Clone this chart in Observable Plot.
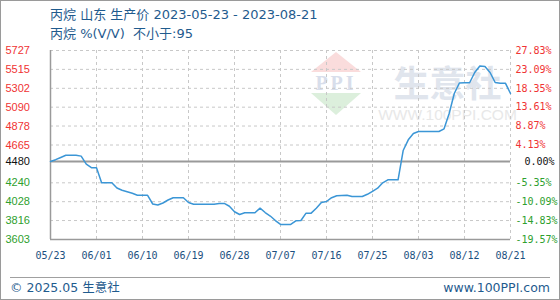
<!DOCTYPE html>
<html><head><meta charset="utf-8">
<script src="https://cdn.jsdelivr.net/npm/d3@7"></script>
<script src="https://cdn.jsdelivr.net/npm/@observablehq/plot@0.6"></script>
<style>
body{margin:0;background:#fff;}
#wrap{position:relative;width:560px;height:300px;overflow:hidden;background:#fff;font-family:"DejaVu Sans","Noto Sans CJK SC",sans-serif;}
#border{position:absolute;left:0;top:0;width:560px;height:300px;box-sizing:border-box;border:1px solid #9a9a9a;pointer-events:none;}
.t{position:absolute;left:50px;font-size:13px;color:#1f5b8e;line-height:20px;white-space:pre;}
#chart{position:absolute;left:0;top:0;}
#sep{position:absolute;left:10px;top:277px;width:540px;height:0;border-top:1px solid #a0a0a0;}
.f{position:absolute;top:279px;font-size:12.5px;line-height:18px;color:#1f5b8e;white-space:pre;}
</style></head>
<body>
<div id="wrap">
  <div class="t" id="title" style="top:5px"></div>
  <div class="t" id="subtitle" style="top:24px"></div>
  <div id="chart"></div>
  <div id="sep"></div>
  <div class="f" id="footL" style="left:10px"></div>
  <div class="f" id="footR" style="right:10px"></div>
  <div id="border"></div>
</div>
<script>
const titleText = "丙烷 山东 生产价 2023-05-23 - 2023-08-21";
const subtitleText = "丙烷 %(V/V)  不小于:95";
const footerLeft = "© 2025.05 生意社";
const footerRight = "www.100PPI.com";

const startDate = "2023-05-23";
const endDate = "2023-08-21";
const basePrice = 4480;
const prices = [
  4480,4500,4525,4550,4550,4550,4540,4450,4410,4410,
  4240,4240,4240,4182,4157,4140,4122,4100,4100,4100,
  4002,3991,4013,4047,4072,4072,4072,4019,4000,4000,
  4000,4000,4000,4008,4008,3977,3915,3884,3903,3903,
  3903,3955,3906,3867,3816,3772,3772,3772,3813,3816,
  3899,3899,3954,4019,4030,4073,4094,4097,4101,4086,
  4086,4086,4111,4145,4180,4240,4274,4274,4274,4603,
  4723,4794,4817,4817,4817,4817,4817,4847,5019,5244,
  5362,5365,5365,5480,5553,5547,5480,5367,5360,5360,
  5244
];
const yTicks = [5727,5515,5302,5090,4878,4665,4480,4240,4028,3816,3603];
const pctLabels = ["27.83%","23.09%","18.35%","13.61%","8.87%","4.13%","0.00%","-5.35%","-10.09%","-14.83%","-19.57%"];
const xTickLabels = ["05/23","06/01","06/10","06/19","06/28","07/07","07/16","07/25","08/03","08/12","08/21"];
const tickYear = 2023;

const upColor = "#f03333", downColor = "#2ea02e", baseColor = "#111";
const lineColor = "#3b96d6";
const gridColor = "#c8c8c8";
const axisColor = "#9a9a9a";

document.getElementById("title").textContent = titleText;
document.getElementById("subtitle").textContent = subtitleText;
document.getElementById("footL").textContent = footerLeft;
document.getElementById("footR").textContent = footerRight;

const d0 = new Date(startDate + "T00:00:00Z");
const d1 = new Date(endDate + "T00:00:00Z");
const dates = d3.utcDay.range(d0, d3.utcDay.offset(d1, 1));
const data = dates.map((date, i) => ({date, value: prices[i]}));
const xTickDates = xTickLabels.map(s => { const [m, d] = s.split("/").map(Number); return new Date(Date.UTC(tickYear, m - 1, d)); });
const ticks = yTicks.map((v, i) => ({v, pct: pctLabels[i]}));
const tickFill = d => d > basePrice ? upColor : d < basePrice ? downColor : baseColor;

function logo(index, scales, values, dims) {
  const cx = dims.width - dims.marginRight - 174, top = dims.marginTop;
  const g = d3.create("svg:g");
  g.append("path").attr("d", `M${cx},${top + 2}L${cx + 25},${top + 22}L${cx - 25},${top + 22}Z`).attr("fill", "#fadcdc");
  g.append("text").attr("x", cx).attr("y", top + 40).attr("text-anchor", "middle")
    .attr("font-family", "Liberation Serif").attr("font-weight", "bold").attr("font-size", 20)
    .attr("letter-spacing", 3).attr("fill", "#d8deeb").text("PPI");
  g.append("path").attr("d", `M${cx - 25},${top + 43}L${cx + 25},${top + 43}L${cx},${top + 65}Z`).attr("fill", "#dcefdc");
  return g.node();
}

const chart = Plot.plot({
  width: 560, height: 265,
  marginLeft: 50, marginRight: 50, marginTop: 50, marginBottom: 26,
  style: {background: "transparent", overflow: "visible"},
  x: {type: "utc", domain: [d0, d1], axis: null},
  y: {domain: [yTicks[yTicks.length - 1], yTicks[0]], axis: null},
  color: {type: "identity"},
  marks: [
    logo,
    Plot.text(["生意社"], {frameAnchor: "top-right", dx: -63, dy: 21, textAnchor: "middle", fontSize: 36, fontWeight: "bold", fill: "#e0e5ed", fontFamily: "Noto Sans CJK SC"}),
    Plot.text(["WWW.100PPI.COM"], {frameAnchor: "top-right", dx: -63, dy: 58, textAnchor: "middle", fontSize: 15.5, fill: "#e8e8e8", fontFamily: "Liberation Sans"}),
    Plot.ruleY(yTicks.filter(v => v !== basePrice && v !== yTicks[yTicks.length - 1]), {stroke: gridColor, strokeDasharray: "3,3"}),
    Plot.ruleX(xTickDates.slice(1), {stroke: gridColor, strokeDasharray: "3,3"}),
    Plot.ruleY([yTicks[yTicks.length - 1]], {stroke: axisColor, strokeWidth: 1.5}),
    Plot.ruleX([d0], {stroke: axisColor, strokeWidth: 1.5}),
    Plot.ruleY([basePrice], {stroke: axisColor, strokeWidth: 2}),
    Plot.line(data, {x: "date", y: "value", stroke: lineColor, strokeWidth: 1.5}),
    Plot.text(yTicks, {y: d => d, frameAnchor: "left", dx: -45, textAnchor: "start", text: d => String(d), fill: tickFill, fontSize: 11, fontFamily: "Liberation Sans"}),
    Plot.text(ticks.filter(d => d.v !== basePrice), {y: "v", text: "pct", frameAnchor: "right", dx: 5, textAnchor: "start", fill: d => tickFill(d.v), fontSize: 10, fontFamily: "DejaVu Sans Mono"}),
    Plot.text(ticks.filter(d => d.v === basePrice), {y: "v", text: "pct", frameAnchor: "right", dx: 14, textAnchor: "start", fill: baseColor, fontSize: 10, fontFamily: "DejaVu Sans Mono"}),
    Plot.text(xTickDates, {x: d => d, text: (d, i) => xTickLabels[i], frameAnchor: "bottom", dy: 19, fill: "#1c4f80", fontSize: 10, fontFamily: "DejaVu Sans Mono"})
  ]
});
document.getElementById("chart").appendChild(chart);
</script>
</body></html>
